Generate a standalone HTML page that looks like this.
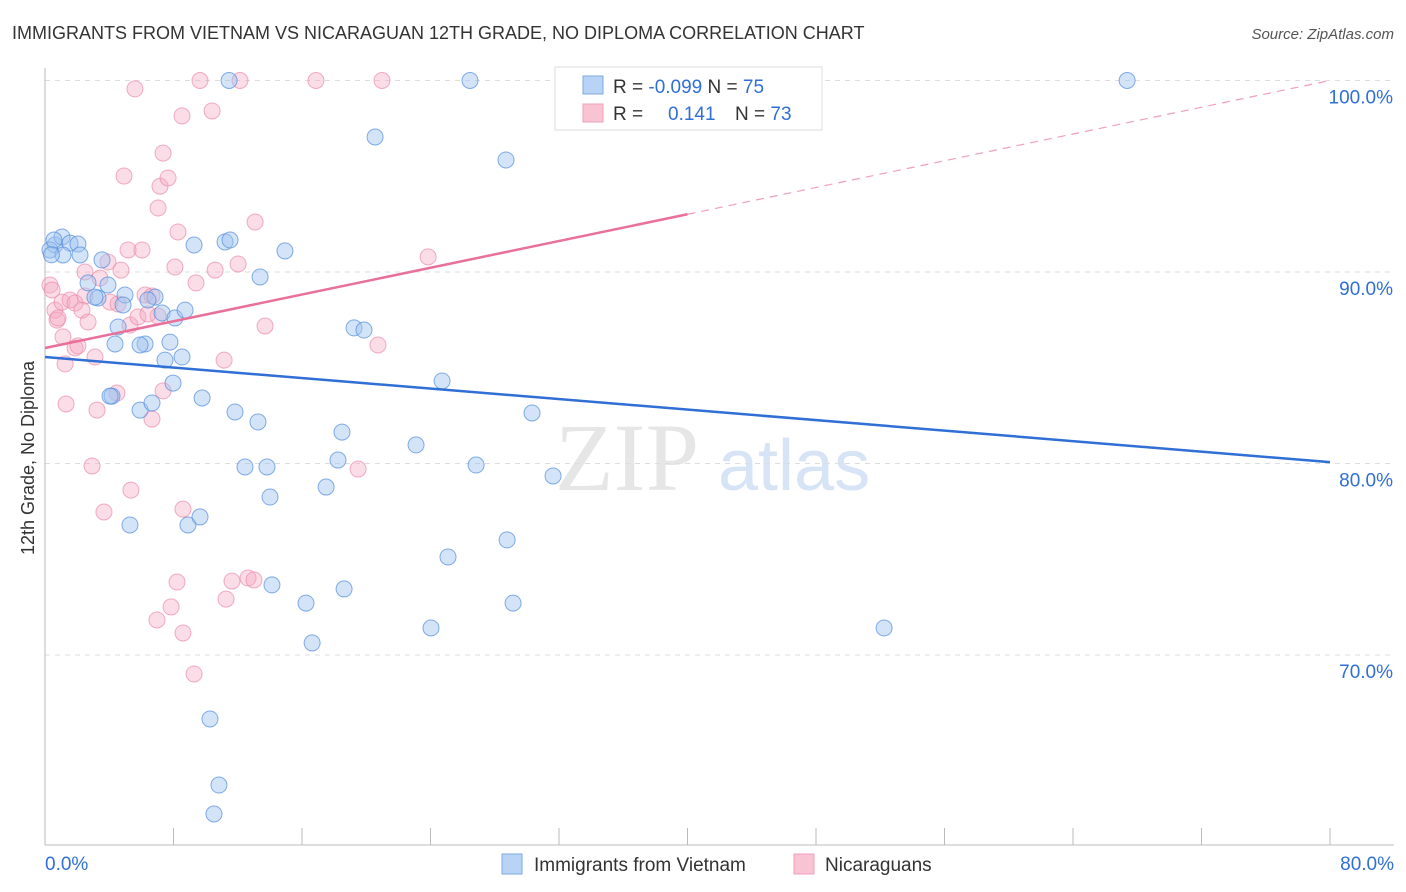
<!DOCTYPE html>
<html><head><meta charset="utf-8"><style>
body{margin:0;background:#fff;font-family:"Liberation Sans",sans-serif;}
</style></head><body>
<svg id="chart" width="1406" height="892" xmlns="http://www.w3.org/2000/svg" style="display:block">
<text x="12" y="39" font-size="18" fill="#333">IMMIGRANTS FROM VIETNAM VS NICARAGUAN 12TH GRADE, NO DIPLOMA CORRELATION CHART</text>
<text x="1394" y="39" font-size="15" fill="#555" text-anchor="end" font-style="italic">Source: ZipAtlas.com</text>
<text x="555" y="490" font-size="96" fill="#e6e6e6" font-family="Liberation Serif">ZIP</text>
<text x="718" y="490" font-size="72" fill="#d6e4f5">atlas</text>
<text transform="translate(34,458) rotate(-90)" font-size="18" fill="#333" text-anchor="middle">12th Grade, No Diploma</text>
<g id="grid"></g><g id="axes"></g><g id="pts"></g><g id="lines"></g>
<g>
<rect x="555" y="67" width="267" height="63" fill="#fff" stroke="#ddd"/>
<rect x="583" y="76" width="20" height="18" fill="#b8d3f5" stroke="#7fa8e0"/>
<rect x="583" y="104" width="20" height="18" fill="#f8c4d4" stroke="#eea0b8"/>
<text x="613" y="93" font-size="19" fill="#333">R = <tspan fill="#2f6fd6">-0.099</tspan>   N = <tspan fill="#2f6fd6">75</tspan></text>
<text x="613" y="120" font-size="19" fill="#333">R =   <tspan fill="#2f6fd6" x="668">0.141</tspan><tspan x="735">N = </tspan><tspan fill="#2f6fd6">73</tspan></text>
</g>
<g>
<rect x="502" y="854" width="20" height="20" fill="#b8d3f5" stroke="#7fa8e0"/>
<text x="534" y="871" font-size="19" fill="#333">Immigrants from Vietnam</text>
<rect x="794" y="854" width="20" height="20" fill="#f8c4d4" stroke="#eea0b8"/>
<text x="825" y="871" font-size="19" fill="#333">Nicaraguans</text>
</g>
</svg>
<script>
const blueX=[0.62,1.06,1.56,2.05,0.31,1.12,2.18,0.56,3.55,2.68,3.30,3.92,3.11,4.98,4.86,4.55,4.36,6.23,5.92,6.85,6.41,7.29,8.09,8.72,7.78,8.53,7.47,7.97,4.17,5.92,6.66,9.78,11.83,13.26,9.28,11.21,11.52,14.94,13.39,12.45,13.82,14.01,5.29,8.90,9.65,14.13,16.25,16.63,18.62,17.50,18.24,18.49,19.24,19.86,20.55,23.10,24.72,26.84,25.09,28.77,29.14,24.03,30.32,31.63,28.70,26.46,43.28,67.37,11.46,52.24,10.27,10.83,10.52,4.05,0.4];
const blueY=[91.41,91.83,91.51,91.46,91.15,90.89,90.89,91.67,90.63,89.43,88.64,89.32,88.69,88.80,88.28,87.13,86.24,86.24,86.19,88.69,88.54,87.86,87.60,88.01,86.34,85.56,85.40,84.20,83.52,82.79,83.16,83.42,82.69,82.17,91.41,91.57,91.67,91.10,89.74,79.82,79.82,78.25,76.79,76.79,77.21,73.66,72.71,70.63,73.45,78.77,80.18,81.64,87.08,86.97,97.05,80.97,84.31,79.92,75.12,76.01,72.71,71.41,82.64,79.35,95.85,100.0,100.0,100.0,100.0,71.41,66.66,63.21,61.70,83.52,90.9];
const pinkX=[0.31,0.62,0.75,1.06,1.56,1.87,2.49,2.30,2.68,1.12,1.87,2.05,3.11,1.25,1.31,3.24,2.93,3.67,2.49,3.42,3.92,4.73,5.17,6.04,4.05,4.55,5.29,5.79,6.23,6.66,7.04,6.41,7.35,6.66,4.48,5.35,8.59,8.22,7.85,6.97,8.59,9.28,11.27,12.64,13.01,11.64,9.40,10.59,12.02,13.08,13.70,11.15,8.28,8.09,7.04,7.16,7.66,7.35,4.92,5.60,8.53,10.40,9.65,12.14,16.87,20.98,23.85,20.73,19.49,0.44,0.81];
const pinkY=[89.32,88.01,87.49,88.43,88.54,88.38,88.75,88.01,87.39,86.61,86.03,86.14,85.56,85.20,83.11,82.79,79.87,77.47,90.0,89.68,90.52,90.10,91.15,91.15,88.43,88.33,87.23,87.65,88.80,88.75,87.70,87.81,83.79,82.32,83.68,78.61,77.62,73.81,72.51,71.83,71.15,69.01,72.92,74.02,73.92,73.86,89.43,90.10,90.42,92.61,87.18,85.40,92.09,90.26,93.34,94.48,94.91,96.21,95.01,99.56,98.15,98.41,100.0,100.0,100.0,100.0,90.79,86.19,79.71,89.06,87.60];
const yTicks=[100,90,80,70];
const yTickLabels=["100.0%","90.0%","80.0%","70.0%"];
const blueTrend=[85.56,80.07];
const pinkTrend=[86.03,100.0];
const xs=v=>45+v*1285/80;
const ys=v=>80.5+(100-v)*19.15;
const NS="http://www.w3.org/2000/svg";
function mk(tag,attrs,parent){const e=document.createElementNS(NS,tag);for(const k in attrs)e.setAttribute(k,attrs[k]);document.getElementById(parent).appendChild(e);return e;}
yTicks.forEach((t,i)=>{
 const l=mk('line',{x1:45,x2:1394,y1:ys(t),y2:ys(t),stroke:'#ddd','stroke-dasharray':'5,5'},'grid');
 
 
 const tx=mk('text',{x:1393,y:ys(t)+23,'font-size':19,fill:'#2f6fd6','text-anchor':'end'},'grid');
 tx.textContent=yTickLabels[i];
 
 
});
const ax=mk('line',{x1:45,x2:45,y1:68,y2:845,stroke:'#bbb'},'axes');


const bx=mk('line',{x1:45,x2:1394,y1:845,y2:845,stroke:'#bbb'},'axes');


for(let i=0;i<=10;i++){const t=mk('line',{x1:xs(i*8),x2:xs(i*8),y1:828,y2:845,stroke:'#bbb'},'axes');
 
 }
const xl=mk('text',{x:45,y:870,'font-size':19,fill:'#2f6fd6'},'axes');xl.textContent='0.0%';


const xr=mk('text',{x:1394,y:870,'font-size':19,fill:'#2f6fd6','text-anchor':'end'},'axes');xr.textContent='80.0%';


pinkX.forEach((x,i)=>{const c=mk('circle',{cx:xs(x),cy:ys(pinkY[i]),r:8,fill:'rgba(245,170,195,0.4)',stroke:'rgba(235,140,170,0.7)'},'pts');
 
 });
blueX.forEach((x,i)=>{const c=mk('circle',{cx:xs(x),cy:ys(blueY[i]),r:8,fill:'rgba(160,195,240,0.45)',stroke:'rgba(80,140,220,0.7)'},'pts');
 
 });
const bl=mk('line',{x1:xs(0),y1:ys(blueTrend[0]),x2:xs(80),y2:ys(blueTrend[1]),stroke:'#2f6fd6','stroke-width':2.5},'lines');


const pm=pinkTrend[0]+(pinkTrend[1]-pinkTrend[0])*40/80;
const pl=mk('line',{x1:xs(0),y1:ys(pinkTrend[0]),x2:xs(40),y2:ys(pm),stroke:'#e8709a','stroke-width':2.5},'lines');


const pd=mk('line',{x1:xs(40),y1:ys(pm),x2:xs(80),y2:ys(pinkTrend[1]),stroke:'#f0a0b8','stroke-width':1.2,'stroke-dasharray':'8,6'},'lines');


</script>
</body></html>
